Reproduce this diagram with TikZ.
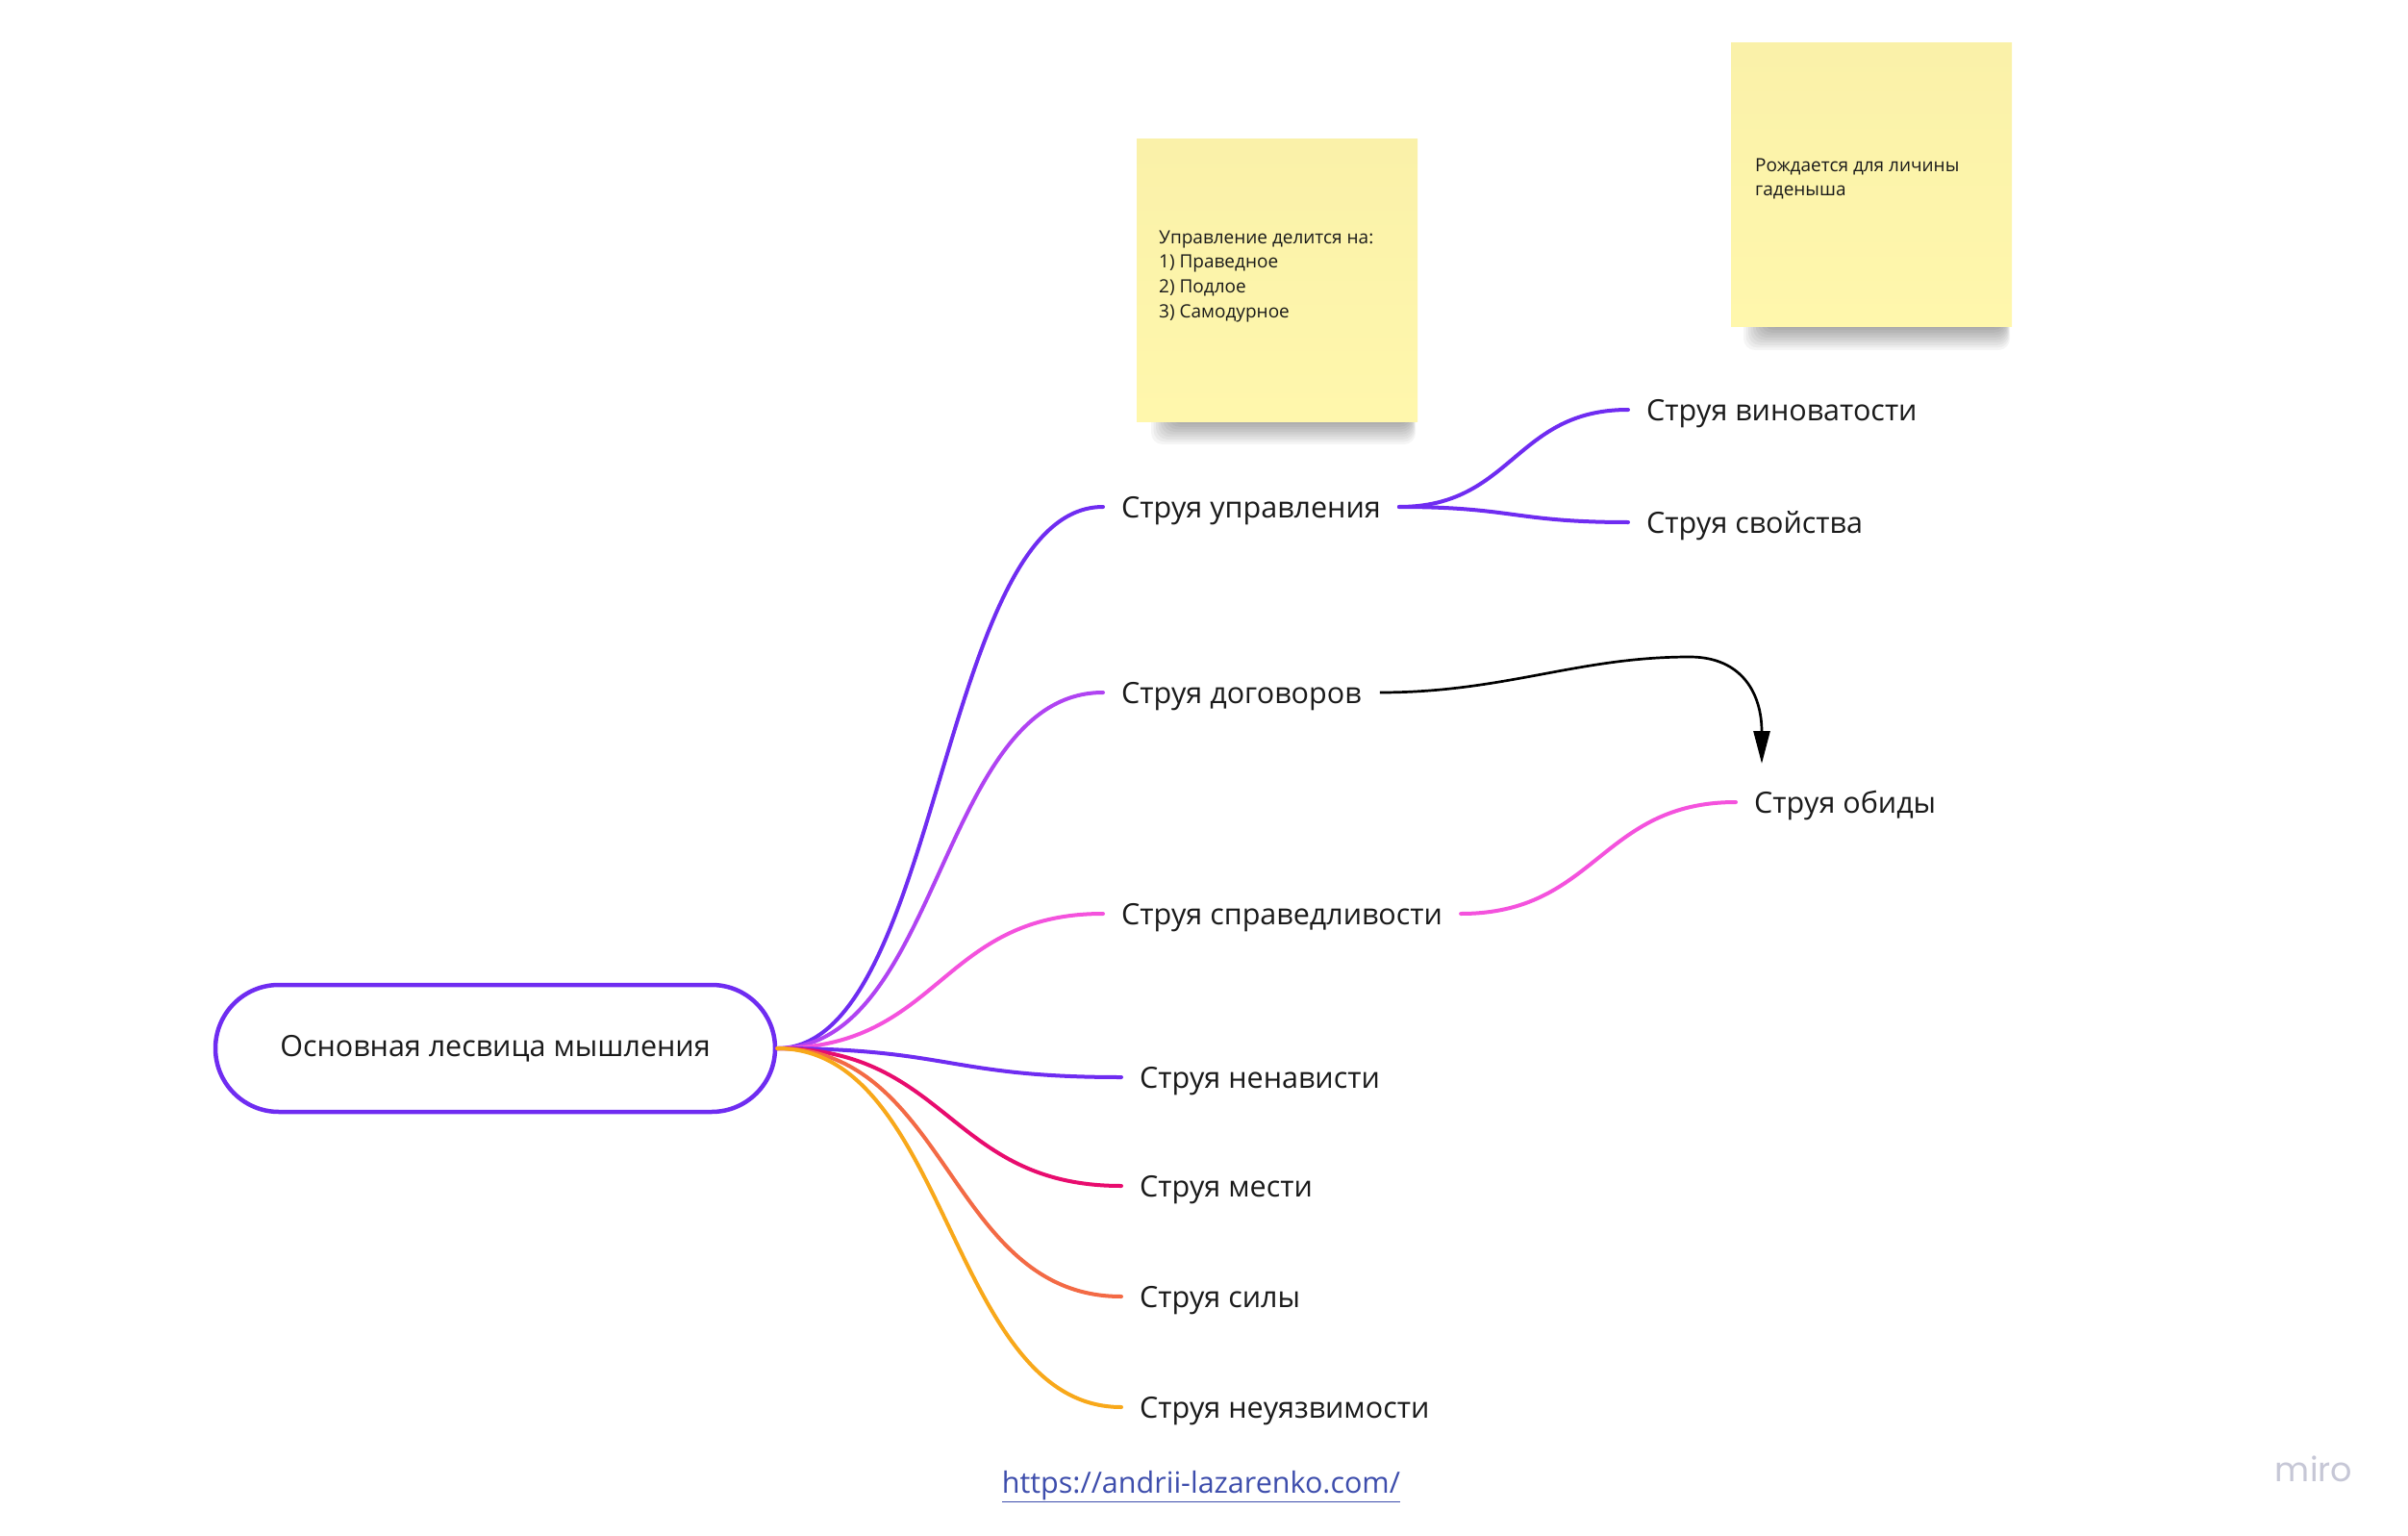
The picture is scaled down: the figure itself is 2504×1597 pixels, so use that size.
\documentclass[tikz,border=0pt]{standalone}
\usepackage{fontspec}
\setmainfont{Open Sans}
\newfontfamily\mirofont{Poppins}
\usetikzlibrary{arrows.meta}
\definecolor{ink}{HTML}{1A1A1A}
\definecolor{cPurple}{HTML}{6F2CF1}
\definecolor{cViolet}{HTML}{B043F2}
\definecolor{cPink}{HTML}{F452DD}
\definecolor{cCrimson}{HTML}{E80C6E}
\definecolor{cCoral}{HTML}{F36A45}
\definecolor{cAmber}{HTML}{F8A81A}
\definecolor{linkblue}{HTML}{3D4DAC}
\definecolor{notetop}{HTML}{FAF1A9}
\definecolor{notebot}{HTML}{FFF7AC}
\definecolor{mirogrey}{HTML}{C6C7D6}
\begin{document}
\begin{tikzpicture}[x=1pt,y=-1pt,
  bigtext/.style={font=\fontsize{30.5}{36}\selectfont, text=ink},
  branchnode/.style={bigtext, anchor=west, inner xsep=19pt, inner ysep=0pt, text height=22pt, text depth=0pt},
  rootnode/.style={bigtext, draw=cPurple, line width=4.5pt, rounded corners=66pt, minimum width=582pt, minimum height=132pt, inner sep=0pt},
  link/.style={line width=4pt, line cap=round},
  notebox/.style={top color=notetop, bottom color=notebot, draw=none},
  notetext/.style={font=\fontsize{19}{25.7}\selectfont, text=ink, align=left, anchor=north west, inner sep=0pt}
]
\useasboundingbox (0,0) rectangle (2504,1597);
\fill[white] (0,0) rectangle (2504,1597);

% ---- sticky note shadows
\foreach \i in {0,...,10}
  \fill[black, opacity=0.04, rounded corners=12pt] (1222-2.5*\i,420) rectangle (1466+0.6*\i,436+2.6*\i);
\foreach \i in {0,...,10}
  \fill[black, opacity=0.04, rounded corners=12pt] (1838-2.5*\i,322) rectangle (2084+0.6*\i,338+2.6*\i);

% ---- sticky notes
\fill[notebox] (1182,145) rectangle (1474,438);
\node[notetext] (note1) at (1205,239.5) {Управление делится на:\\1) Праведное\\2) Подлое\\3) Самодурное};
\fill[notebox] (1800,45) rectangle (2092,340);
\node[notetext] (note2) at (1825,164.5) {Рождается для личины\\гаденыша};

% ---- nodes
\node[rootnode] (root) at (515,1090) {Основная лесвица мышления};

\node[branchnode] (upr) at (1147,527) {Струя управления};
\node[branchnode] (dog) at (1147,720) {Струя договоров};
\node[branchnode] (spr) at (1147,950) {Струя справедливости};
\node[branchnode] (nen) at (1166,1120) {Струя ненависти};
\node[branchnode] (mes) at (1166,1233) {Струя мести};
\node[branchnode] (sil) at (1166,1348) {Струя силы};
\node[branchnode] (neu) at (1166,1463) {Струя неуязвимости};

\node[branchnode] (vin) at (1693,426) {Струя виноватости};
\node[branchnode] (svo) at (1693,543) {Струя свойства};
\node[branchnode] (obi) at (1805,834) {Струя обиды};

\coordinate (arrtip) at (1832,794);

% ---- connectors
\draw[link, cPurple] (root.east) .. controls +(170,0) and +(-170,0) .. (upr.west);
\draw[link, cViolet] (root.east) .. controls +(170,0) and +(-170,0) .. (dog.west);
\draw[link, cPink] (root.east) .. controls +(170,0) and +(-170,0) .. (spr.west);
\draw[link, cPurple] (root.east) .. controls +(179,0) and +(-179,0) .. (nen.west);
\draw[link, cCrimson] (root.east) .. controls +(179,0) and +(-179,0) .. (mes.west);
\draw[link, cCoral] (root.east) .. controls +(179,0) and +(-179,0) .. (sil.west);
\draw[link, cAmber] (root.east) .. controls +(179,0) and +(-179,0) .. (neu.west);

\draw[link, cPurple] (upr.east) .. controls +(118,0) and +(-118,0) .. (vin.west);
\draw[link, cPurple] (upr.east) .. controls +(118,0) and +(-118,0) .. (svo.west);
\draw[link, cPink] (spr.east) .. controls +(141,0) and +(-141,0) .. (obi.west);

\draw[line width=2.7pt, black, -{Triangle[length=34pt,width=17pt]}]
  (dog.east) .. controls +(130,0) and (1640,683) .. (1757,683)
  .. controls (1812,683) and (1832,722) .. (arrtip);

% ---- footer
\node[font=\fontsize{30.5}{36}\selectfont, text=linkblue] (url) at (1249,1546) {\underline{https://andrii-lazarenko.com/}};
\node[font=\mirofont\fontsize{35}{42}\selectfont, text=mirogrey] (miro) at (2406,1527) {miro};
\end{tikzpicture}
\end{document}
